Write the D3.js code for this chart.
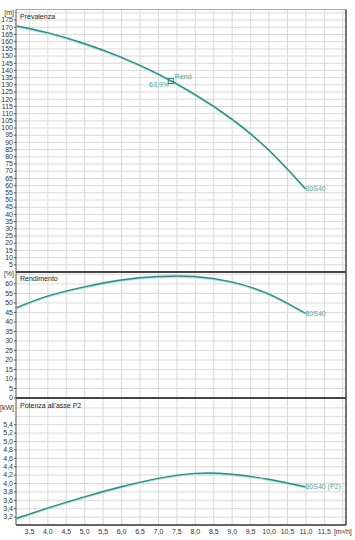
<!DOCTYPE html>
<meta charset="utf-8">
<style>
body { margin: 0; background: #fff; }
text { font-family: "Liberation Sans", Arial, sans-serif; font-size: 7px; fill: #333; }
.grid line { stroke: #d9d9d9; stroke-width: 1px; }
.grid path { display: none; }
.axis path { display: none; }
.axis line { stroke: #555; }
.curve { fill: none; stroke: #2e8b80; stroke-width: 1.4px; }
.halo { fill: none; stroke: #9fe3e3; stroke-width: 1.4px; }
.lbl { fill: #4fa69c; }
</style>
<svg width="355" height="540"></svg>
<script src="https://cdn.jsdelivr.net/npm/d3@7"></script>
<script>
// valori
var flow = [3.17, 4, 5, 6, 7, 8, 9, 10, 11];
var head = [170.5, 165.9, 158.4, 148.9, 137.2, 123, 106, 84.5, 57.5];
var eff = [47.3, 53.3, 58.2, 61.8, 63.6, 63.6, 60.8, 54.5, 44.3];
var power = [3.16, 3.40, 3.67, 3.91, 4.11, 4.23, 4.21, 4.09, 3.91];
var bepFlow = 7.35, bepHead = 132.3, bepText = "63,9%";
var pumpName = "80S40";
var xTicks = d3.range(3.5, 12.01, 0.5);

var svg = d3.select("svg");
var left = 16, right = 346;
var x = d3.scaleLinear().domain([3.15, 12.1]).range([left, right]);
var comma = function(f) { return function(d) { return d3.format(f)(d).replace(".", ","); }; };

var panels = [
  {title: "Prevalenza", unit: "[m]", unitAt: 180, y: d3.scaleLinear().domain([0, 182]).range([271.5, 9.5]),
   grid: d3.range(0, 181, 5), ticks: d3.range(5, 176, 5), fmt: comma("d"), values: head, name: pumpName},
  {title: "Rendimento", unit: "[%]", unitAt: 65, y: d3.scaleLinear().domain([0, 66]).range([397.5, 272]),
   grid: d3.range(0, 66, 5), ticks: d3.range(0, 61, 5), fmt: comma("d"), values: eff, name: pumpName},
  {title: "Potenza all'asse P2", unit: "[kW]", unitAt: 5.8, y: d3.scaleLinear().domain([3, 6]).range([525, 399]),
   grid: d3.range(3.2, 5.81, 0.2), ticks: d3.range(3.2, 5.41, 0.2), fmt: comma(".1f"), values: power, name: pumpName + " (P2)"}
];

panels.forEach(function(p) {
  var top = p.y.range()[1], bottom = p.y.range()[0];
  // griglia
  svg.append("g").attr("class", "grid")
    .attr("transform", "translate(" + left + ",0)")
    .call(d3.axisLeft(p.y).tickValues(p.grid).tickSize(-(right - left)).tickFormat(""));
  svg.append("g").attr("class", "grid")
    .attr("transform", "translate(0," + bottom + ")")
    .call(d3.axisBottom(x).tickValues(xTicks).tickSize(-(bottom - top)).tickFormat(""));

  svg.append("g").attr("class", "axis")
    .attr("transform", "translate(" + left + ",0)")
    .call(d3.axisLeft(p.y).tickValues(p.ticks).tickSize(2).tickPadding(1).tickFormat(p.fmt));
  svg.append("text").attr("x", 14).attr("y", p.y(p.unitAt)).attr("dy", "0.35em")
    .attr("text-anchor", "end").text(p.unit);

  svg.append("text").attr("x", 20).attr("y", top + 9).style("fill", "#222").text(p.title);

  var line = d3.line()
    .x(function(d, i) { return x(flow[i]); })
    .y(function(d) { return p.y(d); })
    .curve(d3.curveNatural);
  svg.append("path").datum(p.values).attr("class", "halo")
    .attr("transform", "translate(0,1)").attr("d", line);
  svg.append("path").datum(p.values).attr("class", "curve").attr("d", line);

  var last = p.values.length - 1;
  svg.append("text").attr("class", "lbl")
    .attr("x", x(flow[last])).attr("y", p.y(p.values[last])).attr("dy", "0.35em")
    .text(p.name);
});

// punto di rendimento massimo
var yH = panels[0].y;
svg.append("rect").attr("x", x(bepFlow) - 2.5).attr("y", yH(bepHead) - 2.5)
  .attr("width", 5).attr("height", 5)
  .attr("fill", "none").attr("stroke", "#2e8b80").attr("stroke-width", 1);
svg.append("text").attr("class", "lbl").attr("x", x(bepFlow) + 4).attr("y", yH(bepHead) - 2).text("Rend");
svg.append("text").attr("class", "lbl").attr("x", x(bepFlow) - 2).attr("y", yH(bepHead) + 6)
  .attr("text-anchor", "end").text(bepText);

// asse x
svg.append("g").attr("class", "axis")
  .attr("transform", "translate(0,525)")
  .call(d3.axisBottom(x).tickValues(xTicks).tickSize(0).tickPadding(4)
    .tickFormat(function(d) { return d === 12 ? "[m³/h]" : comma(".1f")(d); }));

// bordi
svg.append("line").attr("x1", left).attr("x2", right).attr("y1", 9.5).attr("y2", 9.5)
  .attr("stroke", "#aaa");
svg.append("line").attr("x1", left).attr("x2", left).attr("y1", 9.5).attr("y2", 525)
  .attr("stroke", "#555");
svg.append("line").attr("x1", right).attr("x2", right).attr("y1", 9.5).attr("y2", 525)
  .attr("stroke", "#444").attr("stroke-width", 1.5);
[272, 398].forEach(function(yy) {
  svg.append("line").attr("x1", left).attr("x2", right).attr("y1", yy).attr("y2", yy)
    .attr("stroke", "#444").attr("stroke-width", 2);
});
svg.append("line").attr("x1", left).attr("x2", right).attr("y1", 525).attr("y2", 525)
  .attr("stroke", "#333").attr("stroke-width", 1.5);
</script>
